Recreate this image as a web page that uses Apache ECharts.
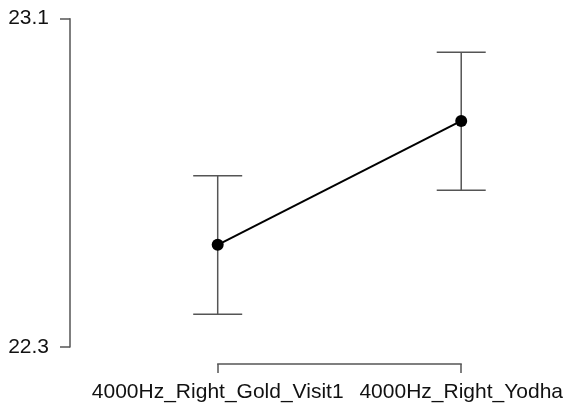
<!DOCTYPE html>
<html>
<head>
<meta charset="utf-8">
<script src="https://cdn.jsdelivr.net/npm/echarts@6/dist/echarts.min.js"></script>
<style>html,body{margin:0;padding:0;background:#fff;}#c{width:566px;height:410px;}</style>
</head>
<body>
<div id="c"></div>
<script>
var categories = ['4000Hz_Right_Gold_Visit1', '4000Hz_Right_Yodha'];
var means = [22.549, 22.851];
var lower = [22.380, 22.682];
var upper = [22.717, 23.018];
var yTicks = [22.3, 23.1];

var chart = echarts.init(document.getElementById('c'), null, {renderer: 'canvas'});
var font = 'Liberation Sans, Arial, Helvetica, sans-serif';
var errData = categories.map(function (c, i) { return [i, lower[i], upper[i]]; });

chart.setOption({
  animation: false,
  backgroundColor: '#fff',
  grid: {left: 217.7, right: 103.3, top: 18.7, bottom: 63, containLabel: false},
  xAxis: {
    type: 'category',
    data: categories,
    boundaryGap: false,
    offset: 17,
    axisLine: {show: true, lineStyle: {color: '#555', width: 1.5}},
    axisTick: {show: true, length: 9, inside: false, lineStyle: {color: '#555', width: 1.5}},
    axisLabel: {show: true, margin: 18, fontSize: 21, color: '#111', fontFamily: font, interval: 0},
    splitLine: {show: false}
  },
  yAxis: {
    type: 'value',
    min: 22.3,
    max: 23.1,
    offset: 147.7,
    axisLine: {show: true, lineStyle: {color: '#555', width: 1.5}},
    axisTick: {show: true, length: 10, customValues: yTicks, lineStyle: {color: '#555', width: 1.5}},
    axisLabel: {show: true, margin: 21, fontSize: 21, color: '#111', fontFamily: font, customValues: yTicks,
      formatter: function (v) { return Number(v).toFixed(1); }},
    splitLine: {show: false}
  },
  series: [
    {
      type: 'custom',
      clip: false,
      z: 1,
      data: errData,
      renderItem: function (params, api) {
        var x = api.value(0);
        var lo = api.coord([x, api.value(1)]);
        var hi = api.coord([x, api.value(2)]);
        var hw = 24.5;
        var st = {stroke: '#555', lineWidth: 1.5};
        return {
          type: 'group',
          children: [
            {type: 'line', shape: {x1: lo[0], y1: lo[1], x2: hi[0], y2: hi[1]}, style: st},
            {type: 'line', shape: {x1: lo[0] - hw, y1: lo[1], x2: lo[0] + hw, y2: lo[1]}, style: st},
            {type: 'line', shape: {x1: hi[0] - hw, y1: hi[1], x2: hi[0] + hw, y2: hi[1]}, style: st}
          ]
        };
      }
    },
    {
      type: 'line',
      data: means,
      clip: false,
      z: 3,
      symbol: 'circle',
      symbolSize: 12,
      lineStyle: {color: '#000', width: 2},
      itemStyle: {color: '#000'}
    }
  ]
});
</script>
</body>
</html>
